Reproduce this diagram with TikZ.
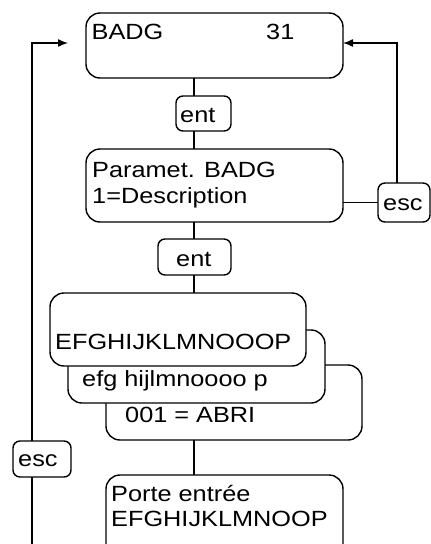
\documentclass[tikz,border=0pt]{standalone}
\usepackage{fontspec}
\setmainfont{Liberation Sans}[FakeStretch=1.15]
\usetikzlibrary{arrows.meta}
\tikzset{
  panel/.style={draw, line width=1.4pt, rounded corners=14pt, fill=white,
                inner sep=0pt, outer sep=0pt},
  keybox/.style={draw, line width=1.4pt, rounded corners=7pt, fill=white,
                 inner sep=0pt, outer sep=0pt},
  txt/.style={anchor=base west, inner sep=0pt, font=\fontsize{22}{26}\selectfont},
  wire/.style={line width=1.4pt},
  back/.style={wire, -{Latex[length=10pt,width=8pt]}}
}
\begin{document}
\begin{tikzpicture}[x=1pt,y=-1pt]
\useasboundingbox (0,0) rectangle (431,544);

% main screens
\node[panel, minimum width=257pt, minimum height=65pt] (b1) at (214.5,45.5) {};
\node[panel, minimum width=257pt, minimum height=73pt] (b2) at (214.5,185.5) {};

% stacked list of entries (back to front)
\node[panel, minimum width=256pt, minimum height=75pt] (lc) at (234,402.5) {};
\node[panel, minimum width=257pt, minimum height=73pt] (lb) at (196.5,366.5) {};
\node[panel, minimum width=256pt, minimum height=73pt] (la) at (178,329.5) {};

% detail screen, running past the lower edge
\node[panel, minimum width=237pt, minimum height=85pt] (det) at (224.5,517.5) {};

% keys
\node[keybox, minimum width=55pt, minimum height=35pt] (ent1) at (203.5,113.5) {};
\node[keybox, minimum width=73pt, minimum height=36pt] (ent2) at (194.5,257) {};
\node[keybox, minimum width=52pt, minimum height=39pt] (escR) at (404,202.5) {};
\node[keybox, minimum width=58pt, minimum height=36pt] (escL) at (42,459) {};

% texts
\node[txt] (t1a) at (91.5,39.3) {BADG};
\node[txt] (t1b) at (266,39.3) {31};
\node[txt] (t2a) at (92,177.7) {Paramet. BADG};
\node[txt] (t2b) at (92,203.5) {1=Description};
\node[txt] (tA) at (55,349) {EFGHIJKLMNOOOP};
\node[txt] (tB) at (82,386.7) {efg hijlmnoooo p};
\node[txt] (tC) at (125,422) {001 = ABRI};
\node[txt] (tD1) at (111,501.7) {Porte entrée};
\node[txt] (tD2) at (111,526.7) {EFGHIJKLMNOOP};
\node[txt] (k1) at (180,122) {ent};
\node[txt] (k2) at (176,266) {ent};
\node[txt] (k3) at (383,210.7) {esc};
\node[txt] (k4) at (18,466.7) {esc};

% helper points for the connectors
\coordinate (col) at (194,0);
\coordinate (lcol) at (32,0);
\coordinate (rcol) at (397,0);
\coordinate (loopbot) at (32,550);
\coordinate (looptip) at (68,43);
\coordinate (rtop) at (397,43);

% forward chain
\draw[wire] (b1.south -| col) -- (ent1.north -| col);
\draw[wire] (ent1.south -| col) -- (b2.north -| col);
\draw[wire] (b2.south -| col) -- (ent2.north -| col);
\draw[wire] (ent2.south -| col) -- (la.north -| col);
\draw[wire] (lc.south -| col) -- (det.north -| col);

% esc from the parameter screen back to the top
\draw[wire] (b2.east |- escR.west) -- (escR.west);
\draw[back] (escR.north -| rcol) -- (rtop) -- (b1.east |- rtop);

% esc from the detail screen back to the top
\draw[wire] (loopbot) -- (escL.south -| lcol);
\draw[back] (escL.north -| lcol) -- (lcol |- looptip) -- (looptip);
\end{tikzpicture}
\end{document}
